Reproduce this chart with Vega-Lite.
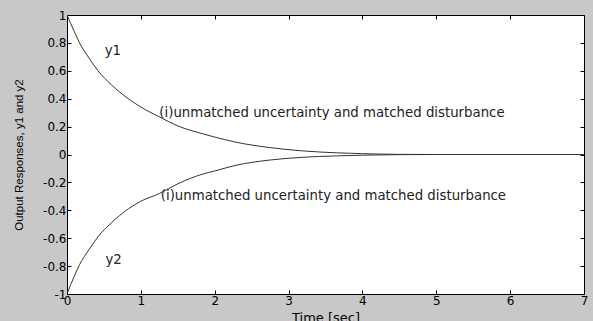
{
  "$schema": "https://vega.github.io/schema/vega-lite/v6.json",
  "width": 517,
  "height": 279,
  "autosize": {"type": "none"},
  "padding": {"left": 67, "top": 15, "right": 9, "bottom": 27},
  "background": "#c8c8c8",
  "config": {
    "view": {"fill": "white", "stroke": "black", "strokeWidth": 1},
    "font": "DejaVu Sans",
    "axis": {
      "grid": false,
      "domain": false,
      "tickColor": "black",
      "tickSize": -4,
      "tickWidth": 1,
      "labelColor": "black",
      "labelFontSize": 12,
      "titleColor": "black",
      "titleFontWeight": "normal"
    }
  },
  "resolve": {"axis": {"x": "independent", "y": "independent"}},
  "layer": [
    {
      "data": {
        "values": [
          {"t": 0, "v": 1.0, "s": "y1"},
          {"t": 0.1, "v": 0.88, "s": "y1"},
          {"t": 0.17, "v": 0.8, "s": "y1"},
          {"t": 0.3, "v": 0.69, "s": "y1"},
          {"t": 0.42, "v": 0.6, "s": "y1"},
          {"t": 0.6, "v": 0.5, "s": "y1"},
          {"t": 0.83, "v": 0.4, "s": "y1"},
          {"t": 1.0, "v": 0.34, "s": "y1"},
          {"t": 1.25, "v": 0.27, "s": "y1"},
          {"t": 1.5, "v": 0.205, "s": "y1"},
          {"t": 1.84, "v": 0.148, "s": "y1"},
          {"t": 2.0, "v": 0.125, "s": "y1"},
          {"t": 2.29, "v": 0.088, "s": "y1"},
          {"t": 2.74, "v": 0.05, "s": "y1"},
          {"t": 3.19, "v": 0.026, "s": "y1"},
          {"t": 3.65, "v": 0.012, "s": "y1"},
          {"t": 4.0, "v": 0.006, "s": "y1"},
          {"t": 4.5, "v": 0.001, "s": "y1"},
          {"t": 5.0, "v": 0, "s": "y1"},
          {"t": 7.0, "v": 0, "s": "y1"},
          {"t": 0, "v": -1.0, "s": "y2"},
          {"t": 0.1, "v": -0.87, "s": "y2"},
          {"t": 0.17, "v": -0.79, "s": "y2"},
          {"t": 0.3, "v": -0.68, "s": "y2"},
          {"t": 0.42, "v": -0.59, "s": "y2"},
          {"t": 0.6, "v": -0.49, "s": "y2"},
          {"t": 0.83, "v": -0.39, "s": "y2"},
          {"t": 1.0, "v": -0.335, "s": "y2"},
          {"t": 1.25, "v": -0.28, "s": "y2"},
          {"t": 1.5, "v": -0.21, "s": "y2"},
          {"t": 1.84, "v": -0.14, "s": "y2"},
          {"t": 2.0, "v": -0.118, "s": "y2"},
          {"t": 2.29, "v": -0.077, "s": "y2"},
          {"t": 2.74, "v": -0.04, "s": "y2"},
          {"t": 3.19, "v": -0.02, "s": "y2"},
          {"t": 3.65, "v": -0.01, "s": "y2"},
          {"t": 4.0, "v": -0.005, "s": "y2"},
          {"t": 4.5, "v": -0.001, "s": "y2"},
          {"t": 5.0, "v": 0, "s": "y2"},
          {"t": 7.0, "v": 0, "s": "y2"}
        ]
      },
      "mark": {"type": "line", "color": "#333333", "strokeWidth": 1, "clip": true, "interpolate": "monotone"},
      "encoding": {
        "x": {
          "field": "t", "type": "quantitative",
          "scale": {"domain": [0, 7], "nice": false, "zero": false},
          "axis": {"orient": "bottom", "values": [0, 1, 2, 3, 4, 5, 6, 7], "title": "Time [sec]", "titleFontSize": 13, "titlePadding": 5, "labelPadding": 5, "labelFlush": false}
        },
        "y": {
          "field": "v", "type": "quantitative",
          "scale": {"domain": [-1, 1], "nice": false, "zero": false},
          "axis": {"orient": "left", "values": [-1, -0.8, -0.6, -0.4, -0.2, 0, 0.2, 0.4, 0.6, 0.8, 1], "labelExpr": "'' + datum.value", "title": "Output Responses, y1 and y2", "titleFont": "Liberation Sans", "titleFontSize": 11.5, "titlePadding": 18, "labelPadding": 5}
        },
        "detail": {"field": "s"}
      }
    },
    {
      "data": {
        "values": [
          {"t": 0.51, "v": 0.74, "label": "y1"},
          {"t": 0.52, "v": -0.755, "label": "y2"},
          {"t": 1.25, "v": 0.3, "label": "(i)unmatched uncertainty and matched disturbance"},
          {"t": 1.27, "v": -0.3, "label": "(i)unmatched uncertainty and matched disturbance"}
        ]
      },
      "mark": {"type": "text", "align": "left", "baseline": "middle", "fontSize": 13.3, "color": "#222222"},
      "encoding": {
        "x": {
          "field": "t", "type": "quantitative",
          "scale": {"domain": [0, 7], "nice": false, "zero": false},
          "axis": {"orient": "top", "values": [0, 1, 2, 3, 4, 5, 6, 7], "labels": false, "title": null}
        },
        "y": {
          "field": "v", "type": "quantitative",
          "scale": {"domain": [-1, 1], "nice": false, "zero": false},
          "axis": {"orient": "right", "values": [-1, -0.8, -0.6, -0.4, -0.2, 0, 0.2, 0.4, 0.6, 0.8, 1], "labels": false, "title": null}
        },
        "text": {"field": "label"}
      }
    }
  ]
}
